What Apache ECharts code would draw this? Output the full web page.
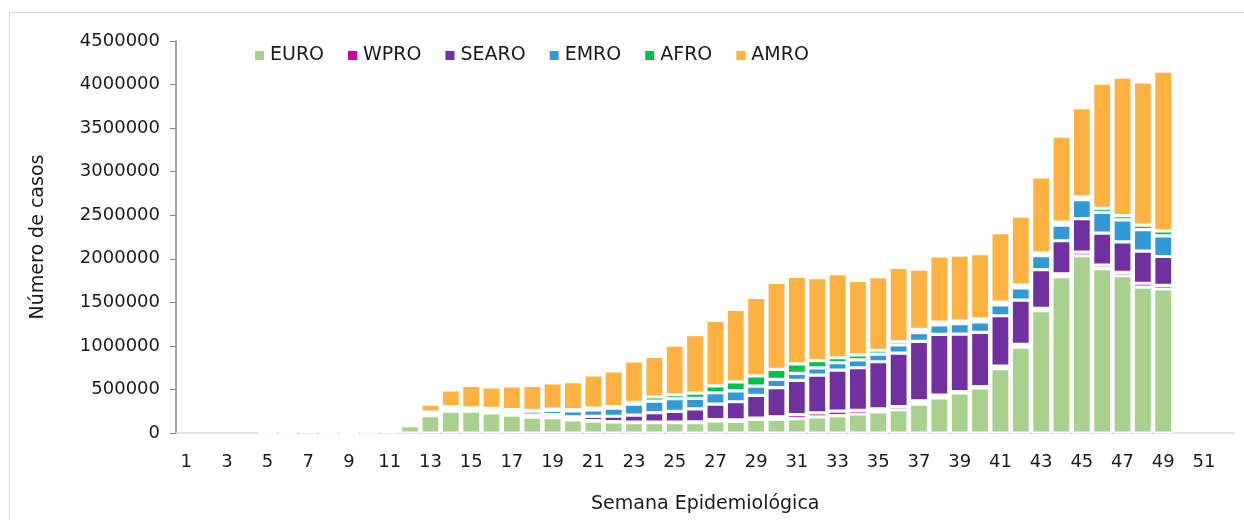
<!DOCTYPE html>
<html><head><meta charset="utf-8">
<script src="https://cdn.jsdelivr.net/npm/echarts@6/dist/echarts.min.js"></script>
<style>html,body{margin:0;padding:0;background:#fff}#chart{width:1244px;height:520px}</style>
</head><body>
<div id="chart"></div>
<script>
// semanas epidemiológicas 1..52
var weeks = [];
for (var i = 1; i <= 52; i++) weeks.push(String(i));

var EURO = [null,null,null,null,null,null,null,null,1000,5000,15000,85000,200000,250000,250000,231000,204000,181000,175000,150000,
  135000,126000,120000,120000,120000,120000,138000,132000,155000,155000,166000,184000,199000,218000,241000,267000,331000,402000,460000,519000,
  739000,985000,1404000,1794000,2035000,1886000,1805000,1674000,1653000,null,null,null];
var WPRO = [null,null,null,null,2000,4000,15000,3000,2000,4000,5000,7000,15000,20000,10000,9000,8000,6000,5000,5000,
  6000,6000,6000,6000,6000,8000,15000,20000,15000,31000,44000,48000,51000,42000,37000,37000,37000,32000,16000,15000,
  30000,34000,28000,34000,42000,42000,40000,45000,42000,null,null,null];
var SEARO = [null,null,null,null,null,null,null,null,null,null,500,500,3000,5000,7000,10000,14000,18000,30000,30000,
  50000,60000,80000,107000,123000,150000,178000,207000,261000,334000,395000,432000,471000,489000,540000,612000,683000,699000,660000,622000,
  577000,507000,443000,379000,385000,367000,348000,369000,331000,null,null,null];
var EMRO = [null,null,null,null,null,null,null,100,1000,3000,6000,8000,20000,25000,20000,27000,35000,45000,50000,68000,
  75000,92000,126000,134000,146000,119000,131000,124000,106000,96000,80000,83000,86000,91000,87000,94000,101000,109000,118000,118000,
  125000,140000,160000,180000,216000,238000,253000,247000,238000,null,null,null];
var AFRO = [null,null,null,null,null,null,null,null,null,null,100,300,2000,4000,3000,5000,7000,10000,15000,15000,
  20000,20000,20000,46000,46000,61000,80000,103000,118000,115000,109000,83000,57000,57000,45000,38000,37000,32000,31000,37000,
  32000,32000,34000,34000,34000,47000,49000,51000,57000,null,null,null];
var AMRO = [null,null,null,null,null,null,null,null,null,null,2000,15000,90000,190000,257000,246000,272000,287000,299000,321000,
  380000,408000,475000,467000,567000,670000,752000,834000,903000,999000,1005000,954000,965000,855000,845000,854000,691000,758000,758000,747000,
  796000,792000,870000,987000,1022000,1437000,1589000,1645000,1834000,null,null,null];

var names = ['EURO', 'WPRO', 'SEARO', 'EMRO', 'AFRO', 'AMRO'];
var values = [EURO, WPRO, SEARO, EMRO, AFRO, AMRO];
var colors = ['#A9D18E', '#CC0099', '#7030A0', '#3399D6', '#00C150', '#FFB142'];

var font = 'DejaVu Sans';
var txt = '#1a1a1a';

var chart = echarts.init(document.getElementById('chart'));
chart.setOption({
  animation: false,
  textStyle: { fontFamily: font },
  graphic: [{
    type: 'rect',
    shape: { x: 9.5, y: 12.5, width: 1240, height: 520 },
    style: { fill: 'none', stroke: '#d9d9d9', lineWidth: 1 },
    silent: true
  }],
  legend: {
    top: 41,
    left: 248,
    itemWidth: 11,
    itemHeight: 11,
    itemGap: 22,
    icon: 'rect',
    textStyle: { fontFamily: font, fontSize: 19, color: txt },
    data: names
  },
  grid: { left: 176, right: 9.5, top: 41, bottom: 87 },
  xAxis: {
    type: 'category',
    data: weeks,
    name: 'Semana Epidemiológica',
    nameLocation: 'middle',
    nameGap: 62,
    nameTextStyle: { fontFamily: font, fontSize: 19, color: txt },
    axisLine: { lineStyle: { color: '#d9d9d9', width: 1.5 } },
    axisTick: { show: false },
    axisLabel: { interval: 1, margin: 20, fontFamily: font, fontSize: 18, color: txt }
  },
  yAxis: {
    type: 'value',
    min: 0,
    max: 4500000,
    interval: 500000,
    name: 'Número de casos',
    nameLocation: 'middle',
    nameGap: 128,
    nameTextStyle: { fontFamily: font, fontSize: 19, color: txt },
    axisLine: { show: true, lineStyle: { color: '#868686', width: 1.5 } },
    axisTick: { show: true, length: 6, lineStyle: { color: '#868686' } },
    splitLine: { show: false },
    axisLabel: {
      margin: 16, fontFamily: font, fontSize: 18, color: txt,
      formatter: function (v) { return String(v); }
    }
  },
  series: names.map(function (n, k) {
    return {
      name: n,
      type: 'bar',
      stack: 'total',
      barWidth: 19,
      data: values[k],
      itemStyle: { color: colors[k], borderColor: '#ffffff', borderWidth: 1.6 }
    };
  })
});
</script>
</body></html>
